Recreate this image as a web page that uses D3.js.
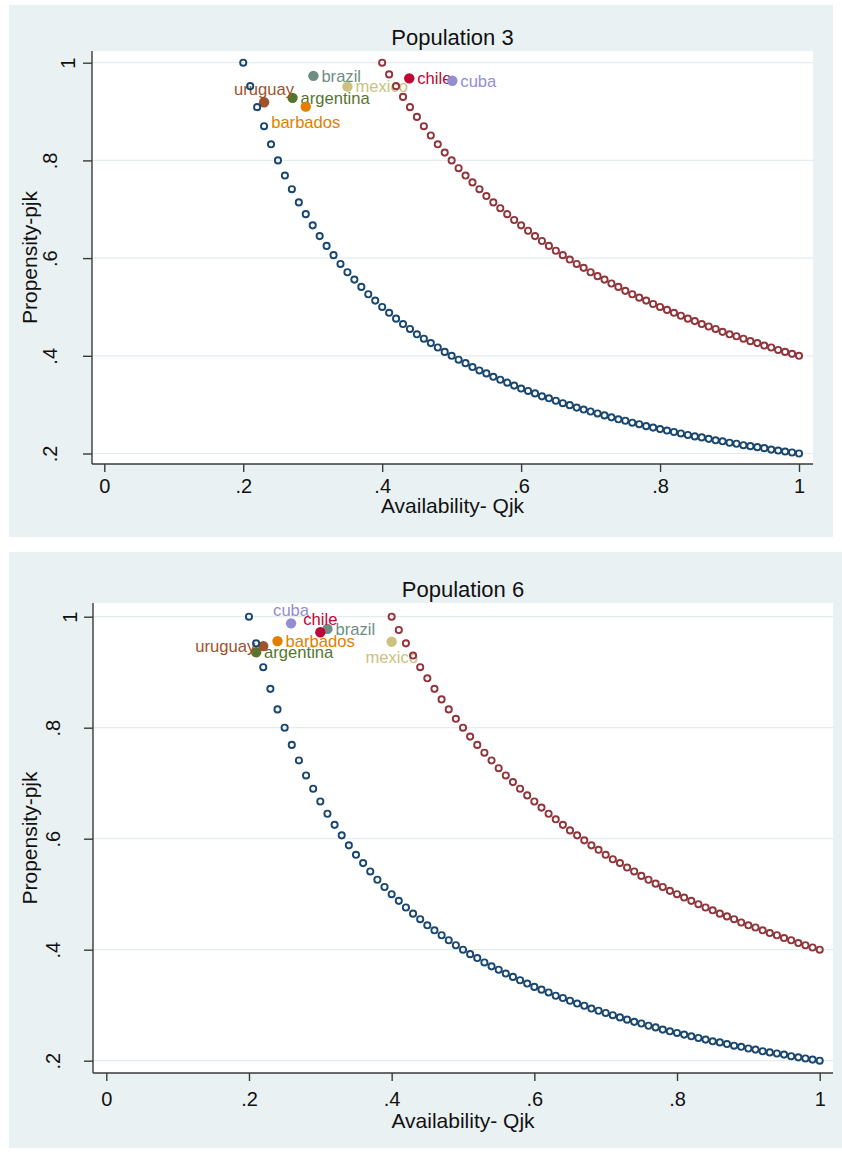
<!DOCTYPE html>
<html>
<head>
<meta charset="utf-8">
<script src="https://cdn.jsdelivr.net/npm/d3@7"></script>
<style>
  body { margin: 0; background: #fff; }
  svg text { font-family: "Liberation Sans", Arial, sans-serif; }
</style>
</head>
<body>
<svg id="chart" width="842" height="1155"></svg>
<script>
// availability grid and the two propensity curves
const qBlue = [0.20, 0.21, 0.22, 0.23, 0.24, 0.25, 0.26, 0.27, 0.28, 0.29,
  0.30, 0.31, 0.32, 0.33, 0.34, 0.35, 0.36, 0.37, 0.38, 0.39,
  0.40, 0.41, 0.42, 0.43, 0.44, 0.45, 0.46, 0.47, 0.48, 0.49,
  0.50, 0.51, 0.52, 0.53, 0.54, 0.55, 0.56, 0.57, 0.58, 0.59,
  0.60, 0.61, 0.62, 0.63, 0.64, 0.65, 0.66, 0.67, 0.68, 0.69,
  0.70, 0.71, 0.72, 0.73, 0.74, 0.75, 0.76, 0.77, 0.78, 0.79,
  0.80, 0.81, 0.82, 0.83, 0.84, 0.85, 0.86, 0.87, 0.88, 0.89,
  0.90, 0.91, 0.92, 0.93, 0.94, 0.95, 0.96, 0.97, 0.98, 0.99, 1.00]
const pBlue = [1.000, 0.952, 0.909, 0.870, 0.833, 0.800, 0.769, 0.741, 0.714, 0.690,
  0.667, 0.645, 0.625, 0.606, 0.588, 0.571, 0.556, 0.541, 0.526, 0.513,
  0.500, 0.488, 0.476, 0.465, 0.455, 0.444, 0.435, 0.426, 0.417, 0.408,
  0.400, 0.392, 0.385, 0.377, 0.370, 0.364, 0.357, 0.351, 0.345, 0.339,
  0.333, 0.328, 0.323, 0.317, 0.313, 0.308, 0.303, 0.299, 0.294, 0.290,
  0.286, 0.282, 0.278, 0.274, 0.270, 0.267, 0.263, 0.260, 0.256, 0.253,
  0.250, 0.247, 0.244, 0.241, 0.238, 0.235, 0.233, 0.230, 0.227, 0.225,
  0.222, 0.220, 0.217, 0.215, 0.213, 0.211, 0.208, 0.206, 0.204, 0.202, 0.200]

const qRed = [0.40, 0.41, 0.42, 0.43, 0.44, 0.45, 0.46, 0.47, 0.48, 0.49,
  0.50, 0.51, 0.52, 0.53, 0.54, 0.55, 0.56, 0.57, 0.58, 0.59,
  0.60, 0.61, 0.62, 0.63, 0.64, 0.65, 0.66, 0.67, 0.68, 0.69,
  0.70, 0.71, 0.72, 0.73, 0.74, 0.75, 0.76, 0.77, 0.78, 0.79,
  0.80, 0.81, 0.82, 0.83, 0.84, 0.85, 0.86, 0.87, 0.88, 0.89,
  0.90, 0.91, 0.92, 0.93, 0.94, 0.95, 0.96, 0.97, 0.98, 0.99, 1.00]
const pRed = [1.000, 0.976, 0.952, 0.930, 0.909, 0.889, 0.870, 0.851, 0.833, 0.816,
  0.800, 0.784, 0.769, 0.755, 0.741, 0.727, 0.714, 0.702, 0.690, 0.678,
  0.667, 0.656, 0.645, 0.635, 0.625, 0.615, 0.606, 0.597, 0.588, 0.580,
  0.571, 0.563, 0.556, 0.548, 0.541, 0.533, 0.526, 0.519, 0.513, 0.506,
  0.500, 0.494, 0.488, 0.482, 0.476, 0.471, 0.465, 0.460, 0.455, 0.449,
  0.444, 0.440, 0.435, 0.430, 0.426, 0.421, 0.417, 0.412, 0.408, 0.404, 0.400]

// countries
const countries = ['argentina', 'barbados', 'brazil', 'chile', 'cuba', 'mexico', 'uruguay']
const pop3Q = [0.271, 0.290, 0.301, 0.439, 0.501, 0.350, 0.230]
const pop3P = [0.928, 0.910, 0.973, 0.968, 0.963, 0.951, 0.919]
const pop6Q = [0.210, 0.240, 0.310, 0.300, 0.259, 0.400, 0.220]
const pop6P = [0.936, 0.956, 0.978, 0.972, 0.988, 0.955, 0.947]

// ticks
const xTicks = [0, 0.2, 0.4, 0.6, 0.8, 1]
const xTickLabels = ['0', '.2', '.4', '.6', '.8', '1']
const yTicks = [0.2, 0.4, 0.6, 0.8, 1]
const yTickLabels = ['.2', '.4', '.6', '.8', '1']

const countryColor = {
  argentina: '#55752f', barbados: '#e37e00', brazil: '#6e8e84', chile: '#c10534',
  cuba: '#938dd2', mexico: '#cac27e', uruguay: '#a0522d'
}

class CurvePanel {

  constructor(_config, _curves, _points) {
    this.config = _config
    this.curves = _curves
    this.points = _points
    this.initVis()
  }

  initVis() {
    let vis = this
    let c = vis.config

    vis.svg = d3.select('#chart')
    vis.g = vis.svg.append('g')

    vis.g.append('rect')
      .attr('x', c.bg.x).attr('y', c.bg.y)
      .attr('width', c.bg.w).attr('height', c.bg.h)
      .attr('fill', '#eaf1f3')

    vis.g.append('rect')
      .attr('x', c.plot.left).attr('y', c.plot.top)
      .attr('width', c.plot.right - c.plot.left)
      .attr('height', c.plot.bottom - c.plot.top)
      .attr('fill', '#fff')

    vis.xScale = d3.scaleLinear().domain([0, 1]).range(c.xRange)
    vis.yScale = d3.scaleLinear().domain([0.2, 1]).range(c.yRange)

    vis.renderVis()
  }

  renderVis() {
    let vis = this
    let c = vis.config

    // grid
    vis.g.selectAll('.grid')
      .data(yTicks)
      .join('line')
        .attr('class', 'grid')
        .attr('x1', c.plot.left).attr('x2', c.plot.right)
        .attr('y1', d => vis.yScale(d)).attr('y2', d => vis.yScale(d))
        .attr('stroke', '#e3ecef')
        .attr('stroke-width', 1.2)

    // x axis
    let xAxis = d3.axisBottom(vis.xScale)
      .tickValues(xTicks)
      .tickFormat((d, i) => xTickLabels[i])
      .tickSize(8)
      .tickSizeOuter(0)
    let xg = vis.g.append('g')
      .attr('transform', `translate(0, ${c.plot.bottom})`)
      .call(xAxis)
    xg.select('.domain')
      .attr('d', `M${c.plot.left},0H${c.plot.right}`)
    xg.selectAll('line, path').attr('stroke', '#3a3a3a').attr('stroke-width', 1.4)
    xg.selectAll('text')
      .attr('y', c.xLabelDy)
      .attr('dy', '0.35em')
      .attr('fill', '#111')
      .style('font-size', '20px')

    // y axis
    let yAxis = d3.axisLeft(vis.yScale)
      .tickValues(yTicks)
      .tickFormat((d, i) => yTickLabels[i])
      .tickSize(9)
      .tickSizeOuter(0)
    let yg = vis.g.append('g')
      .attr('transform', `translate(${c.plot.left}, 0)`)
      .call(yAxis)
    yg.select('.domain')
      .attr('d', `M0,${c.plot.top}V${c.plot.bottom}`)
    yg.selectAll('line, path').attr('stroke', '#3a3a3a').attr('stroke-width', 1.4)
    yg.selectAll('text')
      .attr('x', null).attr('dy', null)
      .attr('text-anchor', 'middle')
      .attr('transform', function() {
        let lab = d3.select(this).text()
        let off = lab.length === 1 ? c.yLabelNear : c.yLabelFar
        return `translate(${-off}, 0) rotate(-90)`
      })
      .attr('fill', '#111')
      .style('font-size', '20px')

    // country markers first, curves drawn over them
    let pts = vis.g.selectAll('.country')
      .data(vis.points)
      .join('g')
        .attr('class', 'country')

    pts.append('circle')
      .attr('cx', d => vis.xScale(d.q))
      .attr('cy', d => vis.yScale(d.p))
      .attr('r', 5.2)
      .attr('fill', d => countryColor[d.name])

    pts.append('text')
      .attr('x', d => vis.xScale(d.q) + vis.labelShift(d.clock)[0])
      .attr('y', d => vis.yScale(d.p) + vis.labelShift(d.clock)[1])
      .attr('dy', '0.35em')
      .attr('text-anchor', d => d.clock === 3 ? 'start' : d.clock === 9 ? 'end' : 'middle')
      .attr('fill', d => countryColor[d.name])
      .style('font-size', '16.6px')
      .text(d => d.name)

    vis.curves.forEach(curve => {
      vis.g.append('g')
        .selectAll('circle')
        .data(curve.q.map((q, i) => ({ q: q, p: curve.p[i] })))
        .join('circle')
          .attr('cx', d => vis.xScale(d.q))
          .attr('cy', d => vis.yScale(d.p))
          .attr('r', 3.1)
          .attr('fill', 'none')
          .attr('stroke', curve.color)
          .attr('stroke-width', 1.9)
    })

    // titles
    let midX = (c.plot.left + c.plot.right) / 2
    vis.g.append('text')
      .attr('x', midX).attr('y', c.plot.top - 14)
      .attr('dy', '0.35em')
      .attr('text-anchor', 'middle')
      .style('font-size', '22px')
      .attr('fill', '#111')
      .text(c.title)

    vis.g.append('text')
      .attr('x', midX).attr('y', c.plot.bottom + c.xTitleDy)
      .attr('dy', '0.35em')
      .attr('text-anchor', 'middle')
      .style('font-size', '21px')
      .attr('fill', '#111')
      .text('Availability- Qjk')

    vis.g.append('text')
      .attr('transform', `translate(30, ${(c.plot.top + c.plot.bottom) / 2}) rotate(-90)`)
      .attr('dy', '0.35em')
      .attr('text-anchor', 'middle')
      .style('font-size', '21px')
      .attr('fill', '#111')
      .text('Propensity-pjk')
  }

  labelShift(clock) {
    if (clock === 3) return [8, 0]
    if (clock === 9) return [-8, 0]
    if (clock === 12) return [0, -13]
    return [0, 16]
  }
}

const makePoints = (qs, ps, clocks) => countries.map((name, i) => ({
  name: name, q: qs[i], p: ps[i], clock: clocks[i]
}))

const curves = [
  { q: qBlue, p: pBlue, color: '#1a476f' },
  { q: qRed, p: pRed, color: '#90353b' }
]

new CurvePanel({
  title: 'Population 3',
  bg: { x: 9, y: 5, w: 824, h: 532 },
  plot: { left: 92, right: 813, top: 51, bottom: 464 },
  xRange: [104.3, 799],
  yRange: [453.5, 62.7],
  xLabelDy: 22, xTitleDy: 42,
  yLabelNear: 17, yLabelFar: 35
}, curves, makePoints(pop3Q, pop3P, [3, 6, 3, 3, 3, 3, 12]))

new CurvePanel({
  title: 'Population 6',
  bg: { x: 9, y: 552, w: 833, h: 596 },
  plot: { left: 93, right: 833, top: 603, bottom: 1073 },
  xRange: [106.3, 819.7],
  yRange: [1060.7, 616.7],
  xLabelDy: 26, xTitleDy: 48,
  yLabelNear: 16, yLabelFar: 33
}, curves, makePoints(pop6Q, pop6P, [3, 3, 3, 12, 12, 6, 9]))
</script>
</body>
</html>
